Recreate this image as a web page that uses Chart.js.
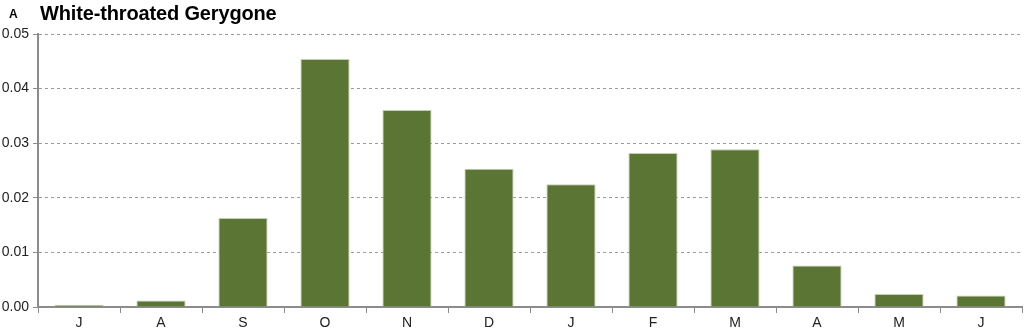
<!DOCTYPE html>
<html>
<head>
<meta charset="utf-8">
<script src="https://cdn.jsdelivr.net/npm/chart.js@4"></script>
<style>
  html, body { margin: 0; padding: 0; background: #fff; }
  #wrap { position: relative; width: 1024px; height: 332px; }
  #panel { position: absolute; left: 9px; top: 7px; font: bold 12px "Liberation Sans", Arial, sans-serif; color: #000; }
  #title { position: absolute; left: 40px; top: 2px; font: bold 20px "Liberation Sans", Arial, sans-serif; color: #000; letter-spacing: -0.15px; }
</style>
</head>
<body>
<div id="wrap">
  <canvas id="myChart" width="1024" height="332"></canvas>
  <div id="panel">A</div>
  <div id="title">White-throated Gerygone</div>
</div>
<script>
const meses = ["J", "A", "S", "O", "N", "D", "J", "F", "M", "A", "M", "J"];
const valores = [0.0004, 0.0012, 0.0163, 0.0454, 0.0361, 0.0253, 0.0225, 0.0282, 0.0289, 0.0076, 0.0024, 0.0021];
const yTicks = [0, 0.01, 0.02, 0.03, 0.04, 0.05];

document.addEventListener("DOMContentLoaded", function () {
  const ctx = document.getElementById("myChart").getContext("2d");
  const myChart = new Chart(ctx, {
    type: "bar",
    data: {
      labels: meses,
      datasets: [
        {
          label: "White-throated Gerygone",
          data: valores,
          backgroundColor: "#5b7634",
          borderColor: "#c4d0b2",
          borderWidth: 1,
          categoryPercentage: 0.6,
          barPercentage: 1,
        },
      ],
    },
    options: {
      responsive: false,
      animation: false,
      layout: { padding: { top: 34, right: 2, left: 0, bottom: 0 } },
      plugins: { legend: { display: false }, tooltip: { enabled: false } },
      scales: {
        x: {
          offset: true,
          grid: { drawOnChartArea: false, drawTicks: true, tickLength: 6, color: "#8c8c8c", offset: true },
          border: { color: "#8c8c8c", width: 2 },
          ticks: { color: "#222", font: { family: "Liberation Sans", size: 14 }, padding: 2 },
          afterFit: function (scale) { scale.height = 25; },
        },
        y: {
          min: 0,
          max: 0.05,
          afterBuildTicks: function (scale) { scale.ticks = yTicks.map(v => ({ value: v })); },
          grid: { color: "#9a9a9a", lineWidth: 1, tickLength: 5, tickColor: "#8c8c8c" },
          border: { color: "#8c8c8c", width: 2, dash: [3, 3] },
          ticks: {
            color: "#222",
            font: { family: "Liberation Sans", size: 14 },
            padding: 4,
            callback: function (v) { return Number(v).toFixed(2); },
          },
          afterFit: function (scale) { scale.width = 38; },
        },
      },
    },
  });
});
</script>
</body>
</html>
